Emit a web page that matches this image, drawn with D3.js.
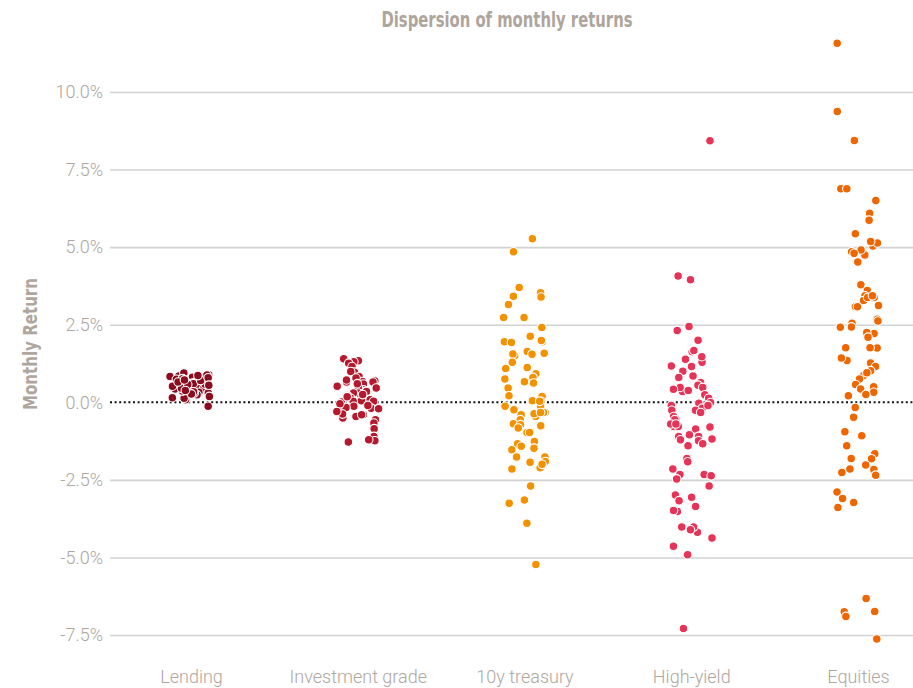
<!DOCTYPE html>
<html>
<head>
<meta charset="utf-8">
<script src="https://cdn.jsdelivr.net/npm/d3@7"></script>
<style>
  body { margin: 0; background: #fff; }
  .tick-label { font-family: Roboto, "Liberation Sans", sans-serif; font-weight: 300; fill: #aea69f; }
  .heavy { font-family: "Liberation Sans Narrow", "DejaVu Sans Condensed", sans-serif; font-weight: bold; fill: #aea59d; }
</style>
</head>
<body>
<svg id="chart" width="913" height="688"></svg>
<script>
// categories and their colours
const categories = ["Lending", "Investment grade", "10y treasury", "High-yield", "Equities"];
const colors = ["#8b0c1e", "#b5192d", "#f39200", "#e63358", "#ee6600"];
const yTicks = [-7.5, -5, -2.5, 0, 2.5, 5, 7.5, 10];

// monthly returns, in %
const lending = [0.83, 0.89, 0.83, 0.85, 0.83, 0.81, 0.94, 0.78, 0.67, 0.62, 0.70, 0.67, 0.72, 0.64, 0.67, 0.62,
  0.49, 0.53, 0.46, 0.49, 0.51, 0.46, 0.43, 0.30, 0.24, 0.32, 0.24, 0.30, 0.30, -0.13, 0.08, 0.13, 0.58, 0.55,
  0.74, 0.76, 0.40, 0.36, 0.19, 0.60, 0.70, 0.88, 0.52, 0.45, 0.34, 0.27, 0.57, 0.65, 0.79, 0.15, 0.38, 0.72, 0.86, 0.55];
const investmentGrade = [1.34, 1.40, 1.31, 1.26, 1.15, 0.97, 0.99, 0.83, 0.67, 0.65, 0.69, 0.78, 0.65, 0.59, 0.40,
  0.46, 0.30, 0.35, 0.46, 0.30, 0.35, 0.22, 0.05, 0.08, 0.13, 0.03, 0.08, 0.03, 0.01, -0.19, -0.24, -0.13, -0.19,
  -0.24, -0.21, -0.17, -0.40, -0.51, -0.46, -0.40, -0.38, -0.56, -0.67, -0.85, -1.10, -1.24, -1.21, -1.28, 0.52,
  0.18, -0.05, -0.30, 0.25, 0.72, -0.10, 0.60];
const treasury10y = [5.27, 4.85, 3.53, 3.42, 3.70, 3.39, 3.15, 2.73, 2.73, 2.41, 2.13, 1.95, 1.95, 1.99, 1.93, 1.58,
  1.64, 1.55, 1.50, 1.56, 1.29, 1.12, 1.09, 0.92, 0.80, 0.62, 0.66, 0.75, 0.46, 0.19, 0.21, 0.05, 0.03, -0.13,
  -0.13, 0.03, -0.33, -0.33, -0.46, -0.40, -0.24, -0.37, -0.33, -0.56, -0.69, -0.72, -0.76, -0.97, -0.83, -0.97,
  -1.26, -1.34, -1.48, -1.42, -1.53, -1.76, -1.76, -1.91, -1.93, -2.11, -2.00, -2.15, -2.70, -3.25, -3.15, -3.90, -5.23];
const highYield = [8.43, 3.95, 4.07, 2.44, 2.31, 2.00, 1.63, 1.67, 1.15, 1.29, 1.39, 1.47, 1.17, 1.00, 0.85, 0.80,
  0.64, 0.35, 0.48, 0.55, 0.38, 0.42, 0.48, 0.24, 0.13, -0.08, -0.03, -0.01, -0.10, -0.19, -0.26, -0.33, -0.10,
  -0.26, -0.54, -0.46, -0.56, -0.78, -0.70, -0.86, -0.80, -0.78, -0.70, -1.10, -1.10, -1.21, -1.05, -1.18, -1.40,
  -1.24, -1.34, -1.81, -1.92, -2.15, -2.33, -2.33, -2.37, -2.47, -2.70, -3.06, -2.99, -3.17, -3.36, -3.52, -3.49,
  -4.02, -4.19, -4.02, -4.11, -4.37, -4.64, -4.91, -7.29];
const equities = [11.57, 9.37, 8.44, 6.88, 6.88, 6.50, 6.09, 5.87, 5.43, 5.04, 5.13, 5.18, 4.75, 4.91, 4.85, 4.80,
  4.52, 4.52, 3.79, 3.60, 3.43, 3.28, 3.38, 3.38, 3.43, 3.12, 3.08, 3.08, 2.68, 2.62, 2.55, 2.42, 2.43, 2.22, 2.25,
  2.10, 1.75, 1.76, 1.76, 1.35, 1.27, 1.43, 1.15, 1.02, 0.86, 0.95, 0.75, 0.57, 0.50, 0.43, 0.32, 0.21, 0.25,
  -0.17, -0.48, -0.95, -1.08, -1.40, -1.66, -1.82, -1.81, -2.02, -2.17, -2.26, -2.15, -2.35, -2.89, -3.10, -3.23,
  -3.39, -6.32, -6.74, -6.75, -6.90, -7.63];

const series = [lending, investmentGrade, treasury10y, highYield, equities];

const width = 913, height = 688;
const padding = {left: 110, right: 0};
const svg = d3.select("#chart");

const x = d3.scalePoint().domain(categories).range([191, 858]);
const y = d3.scaleLinear().domain([-7.5, 10]).range([635, 92]);

// title (squeezed to look like a condensed face)
svg.append("text")
  .attr("class", "heavy")
  .attr("x", 507).attr("y", 27)
  .attr("text-anchor", "middle")
  .attr("textLength", 251)
  .attr("lengthAdjust", "spacingAndGlyphs")
  .style("font-size", "21px")
  .text("Dispersion of monthly returns");

// y axis title
svg.append("text")
  .attr("class", "heavy")
  .attr("transform", "translate(37,344) rotate(-90)")
  .attr("text-anchor", "middle")
  .attr("textLength", 132)
  .attr("lengthAdjust", "spacingAndGlyphs")
  .style("font-size", "20px")
  .text("Monthly Return");

// gridlines + labels via axisLeft
const yAxis = d3.axisLeft(y)
  .tickValues(yTicks)
  .tickSize(-(width - padding.left))
  .tickPadding(7)
  .tickFormat(d => d.toFixed(1) + "%");

const gY = svg.append("g")
  .attr("transform", "translate(" + padding.left + ",0)")
  .call(yAxis);
gY.select(".domain").remove();
gY.selectAll(".tick line")
  .style("stroke", d => d === 0 ? "none" : "#d2d2d2")
  .style("stroke-width", 1.6);
gY.selectAll(".tick text")
  .attr("class", "tick-label")
  .style("font-size", "18px");

// x labels
const xAxis = d3.axisBottom(x).tickSize(0).tickPadding(0);
const gX = svg.append("g")
  .attr("transform", "translate(0,670)")
  .call(xAxis);
gX.select(".domain").remove();
gX.selectAll(".tick text")
  .attr("class", "tick-label")
  .style("font-size", "18px");

// zero line
svg.append("line")
  .attr("x1", padding.left).attr("x2", width)
  .attr("y1", y(0)).attr("y2", y(0))
  .style("stroke", "#111")
  .style("stroke-width", 2)
  .style("stroke-dasharray", "2,2.6");

// deterministic jitter so the strip plot is stable between renders
let seed = 7;
function jitter() {
  seed = (seed * 16807) % 2147483647;
  return (seed / 2147483647) * 2 - 1;
}

const points = [];
series.forEach(function(vals, i) {
  vals.forEach(function(v) {
    points.push({cat: categories[i], color: colors[i], value: v, dx: jitter() * 21});
  });
});

svg.append("g").selectAll("circle")
  .data(points)
  .enter()
  .append("circle")
  .attr("cx", d => x(d.cat) + d.dx)
  .attr("cy", d => y(d.value))
  .attr("r", 4.3)
  .style("fill", d => d.color)
  .style("stroke", "#fff")
  .style("stroke-width", 1.1);
</script>
</body>
</html>
